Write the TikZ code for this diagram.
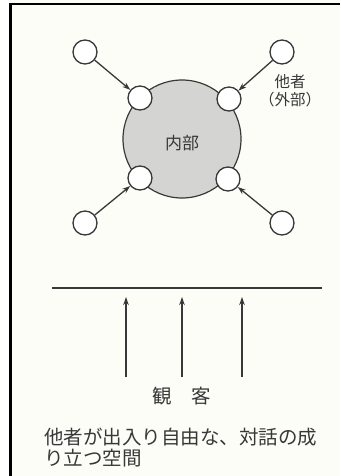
\documentclass[tikz,border=0pt]{standalone}
\usepackage{fontspec}
\newfontfamily\cjk{Noto Sans CJK JP}
\usetikzlibrary{arrows.meta}
\definecolor{paper}{HTML}{FDFDF8}
\definecolor{ink}{HTML}{383838}
\definecolor{disc}{HTML}{D4D4D2}
\tikzset{
  small/.style={circle,draw=ink,line width=1.3pt,fill=white,minimum size=24pt,inner sep=0pt},
  big/.style={circle,draw=ink,line width=1.2pt,fill=disc,minimum size=118pt,inner sep=0pt},
  conn/.style={draw=ink,line width=1.3pt,-{Stealth[length=8pt,width=5.5pt]}},
  lbl/.style={text=ink,inner sep=0pt,font=\cjk}
}
\begin{document}
\begin{tikzpicture}[x=1pt,y=-1pt]
\useasboundingbox (0,0) rectangle (340,476);
\fill[paper] (0,0) rectangle (340,476);
\fill[white] (0,0) rectangle (9,476);
\fill[black] (9,3) rectangle (12,476);
\fill[black] (9,3) rectangle (340,5.5);
% center
\node[big] (in) at (182,139) {};
\node[lbl,font=\cjk\fontsize{17}{19}\selectfont] (inl) at (182,143) {内部};
% inner small circles
\node[small] (a1) at (140,98) {};
\node[small] (a2) at (229,99) {};
\node[small] (a3) at (140,178) {};
\node[small] (a4) at (228,179) {};
% outer circles
\node[small] (b1) at (85,52) {};
\node[small] (b2) at (282,52) {};
\node[small] (b3) at (85,223) {};
\node[small] (b4) at (282,223) {};
\draw[conn] (b1) -- (a1);
\draw[conn] (b2) -- (a2);
\draw[conn] (b3) -- (a3);
\draw[conn] (b4) -- (a4);
\node[lbl,font=\cjk\fontsize{15.5}{17}\selectfont] (o1) at (290,82) {他者};
\node[lbl,font=\cjk\fontsize{15.5}{17}\selectfont] (o2) at (290,100) {（外部）};
% stage line
\coordinate (s1) at (52,288);
\coordinate (s2) at (322,288);
\draw[ink,line width=1.2pt] (s1) -- (s2);
\coordinate (p1) at (126,377); \coordinate (q1) at (126,297);
\coordinate (p2) at (182,377); \coordinate (q2) at (182,297);
\coordinate (p3) at (242,377); \coordinate (q3) at (242,297);
\draw[conn] (p1) -- (q1);
\draw[conn] (p2) -- (q2);
\draw[conn] (p3) -- (q3);
\node[lbl,font=\cjk\fontsize{19.5}{21}\selectfont] (aud) at (182,396) {観\hspace{1em}客};
\node[lbl,font=\cjk\fontsize{19.5}{21}\selectfont,anchor=west] (t1) at (44,437) {他者が出入り自由な、対話の成};
\node[lbl,font=\cjk\fontsize{19.5}{21}\selectfont,anchor=west] (t2) at (44,458) {り立つ空間};
\end{tikzpicture}
\end{document}
